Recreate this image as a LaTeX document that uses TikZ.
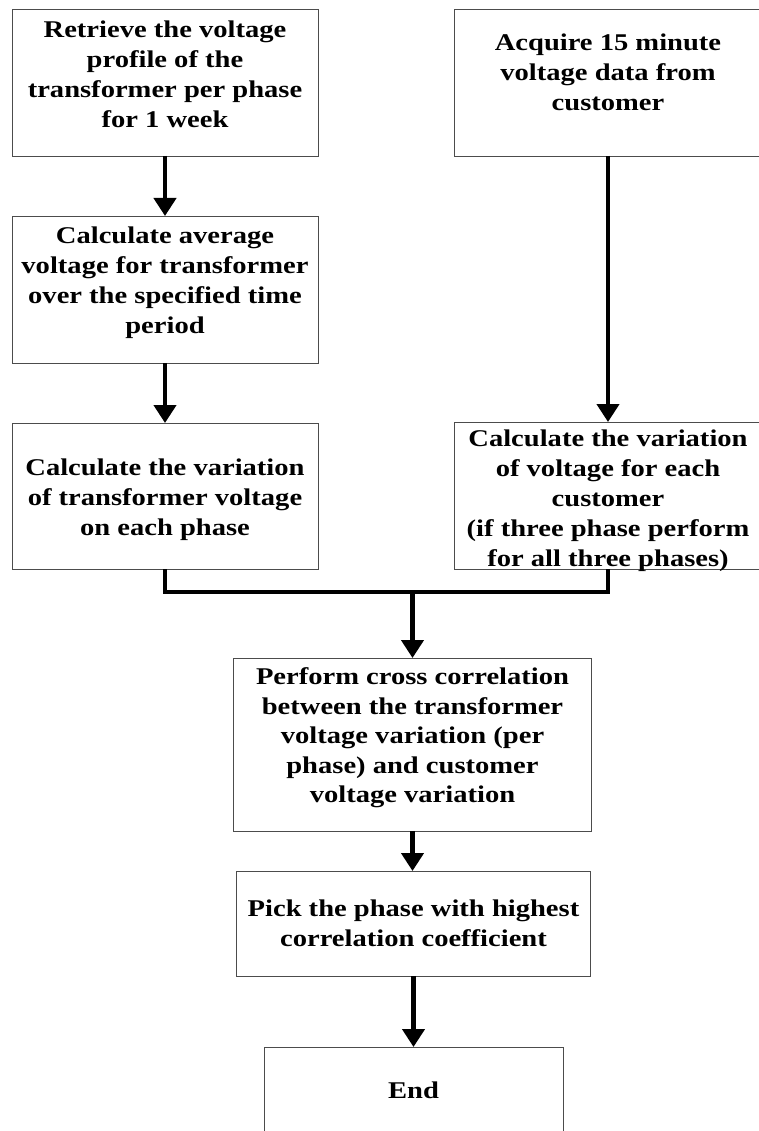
\documentclass[tikz,border=0pt]{standalone}
\usepackage{fontspec}
\setmainfont{Liberation Serif}[FakeStretch=1.19]
\usetikzlibrary{arrows.meta}
\newcommand\boxtxt[4]{\parbox[c][#1pt][t]{#2pt}{\centering\fontsize{24}{30}\selectfont\bfseries\vspace*{#3pt}#4\par}}
\tikzset{
  flowbox/.style={draw=black!70, line width=0.9pt, inner sep=0pt, outer sep=0pt, fill=white},
  flowline/.style={line width=4.3pt, black, line join=miter},
  flowarrow/.style={flowline, -{Triangle[length=18pt,width=22pt]}}
}
\begin{document}
\begin{tikzpicture}[x=1pt,y=-1pt]
\useasboundingbox (0,0) rectangle (759,1131);
\clip (0,0) rectangle (759,1131);
\node[flowbox] (b1) at (165,82.5) {\boxtxt{147}{306}{12}{Retrieve the voltage\\profile of the\\transformer per phase\\for 1 week}};
\node[flowbox] (b2) at (608,82.5) {\boxtxt{147}{308}{25}{Acquire 15 minute\\voltage data from\\customer}};
\node[flowbox] (b3) at (165,289.5) {\boxtxt{147}{306}{11}{Calculate average\\voltage for transformer\\over the specified time\\period}};
\node[flowbox] (b4) at (165,496) {\boxtxt{146}{306}{36}{Calculate the variation\\of transformer voltage\\on each phase}};
\node[flowbox] (b5) at (608,495.5) {\boxtxt{147}{308}{7.5}{Calculate the variation\\of voltage for each\\customer\\(if three phase perform\\for all three phases)}};
\node[flowbox] (b6) at (412.5,744.5) {\boxtxt{173}{358}{10}{\fontsize{24}{29.4}\selectfont Perform cross correlation\\between the transformer\\voltage variation (per\\phase) and customer\\voltage variation}};
\node[flowbox] (b7) at (413.5,923.5) {\boxtxt{105}{354}{29}{Pick the phase with highest\\correlation coefficient}};
\node[flowbox] (b8) at (413.5,1103.5) {\boxtxt{113}{299}{35}{End}};
\coordinate (j) at (412.5,592);
\draw[flowarrow] (b1.south) -- (b3.north);
\draw[flowarrow] (b3.south) -- (b4.north);
\draw[flowarrow] (b2.south) -- (b5.north);
\draw[flowline] (b4.south) |- (j) -| (b5.south);
\draw[flowarrow] (j) -- (b6.north);
\draw[flowarrow] (b6.south) -- (b6.south |- b7.north);
\draw[flowarrow] (b7.south) -- (b7.south |- b8.north);
\end{tikzpicture}
\end{document}
